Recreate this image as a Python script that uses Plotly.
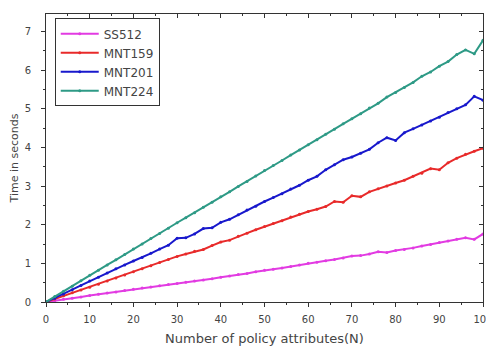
import plotly.graph_objects as go

x = list(range(0, 101, 2))

ss512 = [0, 0.03, 0.07, 0.1, 0.13, 0.17, 0.2, 0.23, 0.26, 0.3, 0.33,
         0.36, 0.39, 0.42, 0.45, 0.48, 0.51, 0.54, 0.57, 0.6, 0.64,
         0.67, 0.71, 0.74, 0.78, 0.82, 0.85, 0.88, 0.92, 0.96, 1.0,
         1.03, 1.07, 1.1, 1.14, 1.19, 1.2, 1.24, 1.3, 1.28, 1.33,
         1.36, 1.4, 1.45, 1.49, 1.54, 1.58, 1.62, 1.66, 1.62, 1.76]

mnt159 = [0, 0.08, 0.16, 0.24, 0.31, 0.38, 0.46, 0.54, 0.62, 0.7, 0.78,
          0.86, 0.94, 1.02, 1.1, 1.18, 1.24, 1.31, 1.36, 1.46, 1.55,
          1.6, 1.7, 1.78, 1.87, 1.95, 2.03, 2.1, 2.2, 2.27, 2.34,
          2.4, 2.47, 2.6, 2.58, 2.75, 2.72, 2.85, 2.93, 3.0, 3.08,
          3.15, 3.25, 3.33, 3.45, 3.42, 3.6, 3.72, 3.82, 3.9, 3.98]

mnt201 = [0, 0.1, 0.21, 0.32, 0.43, 0.54, 0.64, 0.75, 0.86, 0.96, 1.06,
          1.15, 1.26, 1.37, 1.47, 1.65, 1.66, 1.76, 1.9, 1.92, 2.06,
          2.14, 2.26, 2.38, 2.48, 2.6, 2.7, 2.8, 2.92, 3.02, 3.15,
          3.25, 3.42, 3.55, 3.68, 3.75, 3.85, 3.95, 4.12, 4.25, 4.18,
          4.38, 4.48, 4.58, 4.68, 4.78, 4.9, 5.0, 5.1, 5.32, 5.22]

mnt224 = [0, 0.14, 0.28, 0.41, 0.55, 0.69, 0.82, 0.96, 1.09, 1.23, 1.37,
          1.5, 1.64, 1.77, 1.91, 2.05, 2.18, 2.31, 2.45, 2.58, 2.72,
          2.85, 2.99, 3.12, 3.26, 3.4, 3.53, 3.66, 3.8, 3.93, 4.07,
          4.2, 4.34, 4.47, 4.61, 4.74, 4.87, 5.02, 5.14, 5.3, 5.42,
          5.55, 5.68, 5.84, 5.95, 6.1, 6.22, 6.4, 6.52, 6.42, 6.77]

series = [("SS512", ss512, "#E23BE2"),
          ("MNT159", mnt159, "#E82A2A"),
          ("MNT201", mnt201, "#1818CC"),
          ("MNT224", mnt224, "#2E9A86")]

fig = go.Figure()
for name, ys, col in series:
    fig.add_trace(go.Scatter(x=x, y=ys, name=name, mode="lines+markers",
                             line=dict(color=col, width=2),
                             marker=dict(color=col, size=3)))

fam = "DejaVu Sans, Liberation Sans, Arial, sans-serif"
font = dict(family=fam, color="#444444")
axc = "#333333"
fig.update_layout(
    width=486, height=346,
    margin=dict(l=46, r=3, t=14, b=44),
    paper_bgcolor="white", plot_bgcolor="white",
    font=dict(**font, size=10),
    showlegend=True,
    legend=dict(x=0.02, y=0.985, xanchor="left", yanchor="top",
                bordercolor=axc, borderwidth=1, bgcolor="white",
                font=dict(**font, size=12), itemwidth=38,
                tracegroupgap=0),
    xaxis=dict(range=[0, 100], dtick=10, showline=True, linecolor=axc,
               linewidth=1, mirror=True, ticks="outside", ticklen=4,
               tickcolor=axc, showgrid=False, zeroline=False, automargin=False,
               ticklabeloverflow="allow", ticklabelstandoff=4,
               tickfont=dict(**font, size=10),
               minor=dict(ticks="outside", dtick=5, ticklen=2, tickcolor=axc),
               title=dict(text="Number of policy attributes(N)", font=dict(**font, size=13),
                          standoff=10)),
    yaxis=dict(range=[0, 7.45], dtick=1, showline=True, linecolor=axc,
               linewidth=1, mirror=True, ticks="outside", ticklen=4,
               tickcolor=axc, showgrid=False, zeroline=False, automargin=False,
               ticklabelstandoff=8, tickfont=dict(**font, size=10),
               minor=dict(ticks="outside", dtick=0.5, ticklen=2, tickcolor=axc),
               title=dict(text="Time in seconds", font=dict(**font, size=11),
                          standoff=3)),
    xaxis2=dict(range=[0, 100], dtick=10, overlaying="x", side="top",
                ticks="inside", ticklen=4, tickcolor=axc, automargin=False,
                showticklabels=False, showgrid=False, zeroline=False,
                showline=True, linecolor=axc, linewidth=1,
                minor=dict(ticks="inside", dtick=5, ticklen=2, tickcolor=axc)),
    yaxis2=dict(range=[0, 7.45], dtick=1, overlaying="y", side="right",
                ticks="inside", ticklen=4, tickcolor=axc, automargin=False,
                showticklabels=False, showgrid=False, zeroline=False,
                showline=True, linecolor=axc, linewidth=1,
                minor=dict(ticks="inside", dtick=0.5, ticklen=2, tickcolor=axc)),
)
fig.add_trace(go.Scatter(x=[0], y=[0], xaxis="x2", yaxis="y2", mode="markers",
                         marker=dict(opacity=0), showlegend=False, hoverinfo="skip"))

fig.write_html("out.html", config={"displayModeBar": False},
               post_script="document.body.style.margin='0';")
